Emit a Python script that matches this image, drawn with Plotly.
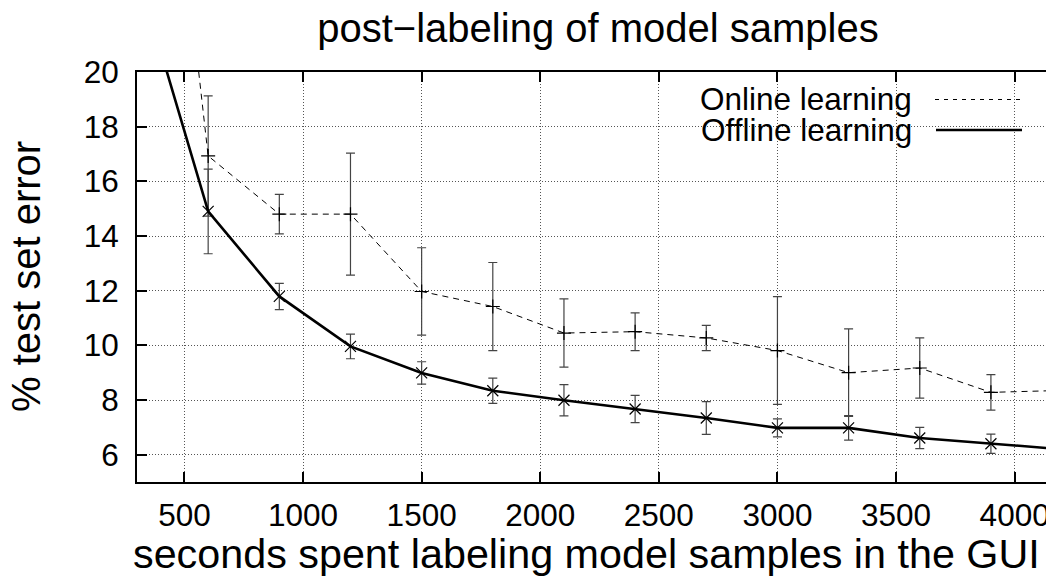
import plotly.graph_objects as go

# ---- data ----
seconds = [300, 600, 900, 1200, 1500, 1800, 2100, 2400, 2700, 3000, 3300, 3600, 3900, 4200]
online_err_pct = [40.0, 16.93, 14.8, 14.8, 11.97, 11.42, 10.45, 10.5, 10.27, 9.81, 9.0, 9.17, 8.28, 8.35]
online_sd = [0, 2.2, 0.72, 2.23, 1.6, 1.61, 1.25, 0.69, 0.46, 1.97, 1.6, 1.1, 0.65, 0]
offline_err_pct = [23.7, 14.9, 11.79, 9.96, 8.99, 8.34, 7.99, 7.67, 7.34, 6.98, 6.98, 6.61, 6.40, 6.2]
offline_sd = [0, 1.55, 0.48, 0.45, 0.41, 0.46, 0.57, 0.5, 0.6, 0.33, 0.45, 0.39, 0.35, 0]

x_ticks = [500, 1000, 1500, 2000, 2500, 3000, 3500, 4000]
y_ticks = [6, 8, 10, 12, 14, 16, 18, 20]

title_text = "post\u2212labeling of model samples"
x_title = "seconds spent labeling model samples in the GUI"
y_title = "% test set error"
series_names = ["Online learning", "Offline learning"]

FONT = "Liberation Sans, Arial, Helvetica, sans-serif"

fig = go.Figure()

fig.add_trace(go.Scatter(
    x=seconds, y=online_err_pct, name=series_names[0], mode="lines+markers",
    line=dict(color="black", width=1, dash="6px,5px"),
    marker=dict(symbol="cross-thin", size=10, line=dict(color="black", width=1.2)),
    error_y=dict(type="data", array=online_sd, visible=True, color="#444", thickness=1.2, width=4.5),
    showlegend=False,
))
fig.add_trace(go.Scatter(
    x=seconds, y=offline_err_pct, name=series_names[1], mode="lines+markers",
    line=dict(color="black", width=2.6),
    marker=dict(symbol="x-thin", size=11, line=dict(color="black", width=1.2)),
    error_y=dict(type="data", array=offline_sd, visible=True, color="#444", thickness=1.2, width=4.5),
    showlegend=False,
))

# The page body has an 8px margin, so work in page pixels and shift by OFF.
OFF = 8
PAGE_W, PAGE_H = 1054, 582
W, H = PAGE_W - OFF, PAGE_H - OFF
# plot area in page pixels: left 137, top 72, bottom 482, right = page edge
P_L, P_T, P_B = 137, 72, 482
L = P_L - OFF
T = P_T - OFF
B = H - (P_B - OFF)
pw, ph = W - L, H - T - B

def px_x(px):
    return (px - P_L) / pw

def px_y(py):
    return (P_B - py) / ph

shapes = [
    dict(type="rect", xref="paper", yref="paper", x0=px_x(608), x1=px_x(1040),
         y0=px_y(148), y1=1.0, fillcolor="white", line=dict(width=0), layer="between"),
    dict(type="line", xref="paper", yref="paper", x0=px_x(935), x1=px_x(1022),
         y0=px_y(99.5), y1=px_y(99.5), line=dict(color="black", width=1, dash="4px,5px")),
    dict(type="line", xref="paper", yref="paper", x0=px_x(936), x1=px_x(1022),
         y0=px_y(130), y1=px_y(130), line=dict(color="black", width=2.6)),
]

annotations = [
    dict(text=series_names[0], xref="paper", yref="paper", x=px_x(914), y=px_y(99.5),
         xanchor="right", yanchor="middle", showarrow=False, font=dict(size=31.5, color="black", family=FONT)),
    dict(text=series_names[1], xref="paper", yref="paper", x=px_x(914), y=px_y(130),
         xanchor="right", yanchor="middle", showarrow=False, font=dict(size=31.5, color="black", family=FONT)),
    dict(text=x_title, xref="paper", yref="paper", x=px_x(586), y=px_y(554),
         xanchor="center", yanchor="middle", showarrow=False, font=dict(size=41.3, color="black", family=FONT)),
    dict(text=y_title, xref="paper", yref="paper", x=px_x(26), y=px_y(277), textangle=-90,
         xanchor="center", yanchor="middle", showarrow=False, font=dict(size=40, color="black", family=FONT)),
]

fig.update_layout(
    width=W, height=H,
    margin=dict(l=L, r=0, t=T, b=B, pad=0),
    paper_bgcolor="white", plot_bgcolor="white",
    font=dict(family=FONT, color="black"),
    title=dict(text=title_text, x=(598 - OFF) / W, xanchor="center", y=1 - (28 - OFF) / H, yanchor="middle",
               font=dict(size=40, color="black", family=FONT)),
    shapes=shapes, annotations=annotations,
)

fig.update_xaxes(
    range=[300, 300 + pw / (118.6 / 500)], tickvals=x_ticks, ticktext=[str(v) for v in x_ticks],
    ticks="inside", ticklen=10, tickwidth=1.5, tickcolor="black",
    showline=True, linecolor="black", linewidth=2, mirror="allticks",
    showgrid=True, gridcolor="#555", gridwidth=1, griddash="1px,2px",
    zeroline=False, tickfont=dict(size=31.5, color="black", family=FONT), ticklabelstandoff=4,
)
fig.update_yaxes(
    range=[5, 20], tickvals=y_ticks, ticktext=[str(v) for v in y_ticks],
    ticks="inside", ticklen=10, tickwidth=1.5, tickcolor="black",
    showline=True, linecolor="black", linewidth=2, mirror=False,
    showgrid=True, gridcolor="#555", gridwidth=1, griddash="1px,2px",
    zeroline=False, tickfont=dict(size=31.5, color="black", family=FONT), ticklabelstandoff=10,
)

fig.write_html("out.html")
